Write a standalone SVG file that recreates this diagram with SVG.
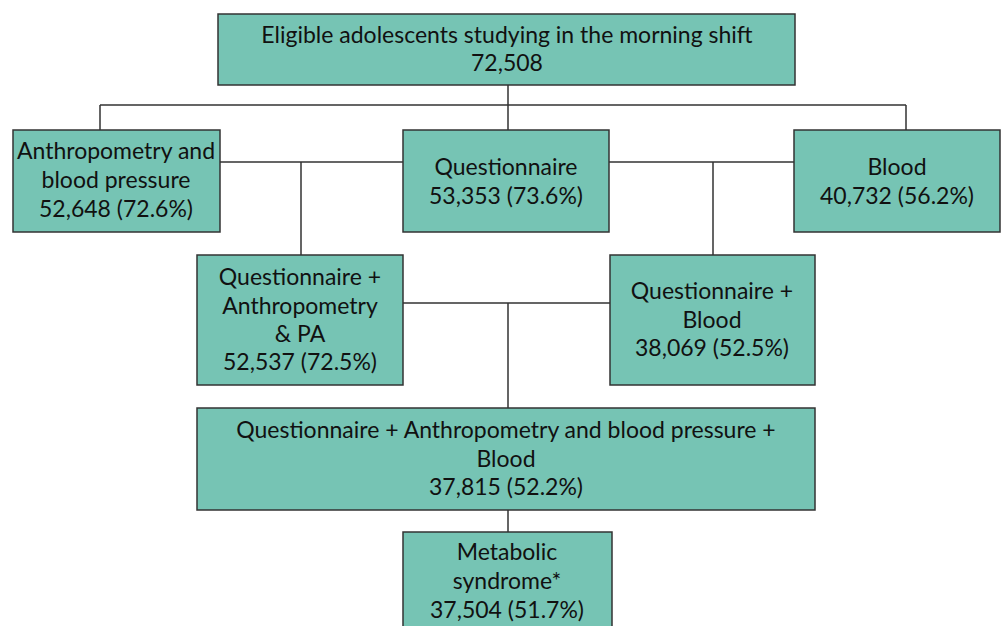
<svg xmlns="http://www.w3.org/2000/svg" width="1003" height="626" viewBox="0 0 1003 626">
<style>
.box{fill:#76c4b4;stroke:#333;stroke-width:1.5}
.t{font-family:Lato,"Open Sans",sans-serif;font-size:23px;fill:#111;text-anchor:middle}
.c{fill:none;stroke:#333;stroke-width:1.5}
</style>
<rect width="1003" height="626" fill="#fff"/>
<g id="connectors">
<path class="c" d="M508 85V130M100 105H906M100 105V130M906 105V130"/>
<path class="c" d="M220 162H403M301 162V255M609 162H794M713 162V255"/>
<path class="c" d="M403 303H610M508 303V408M508 510V532"/>
</g>
<g id="n_top"><rect class="box" x="218" y="14" width="577" height="71"/>
<text class="t" x="507" y="43">Eligible adolescents studying in the morning shift</text>
<text class="t" x="507" y="71">72,508</text></g>
<g id="n_anthro"><rect class="box" x="13" y="130" width="207" height="102"/>
<text class="t" x="116" y="159">Anthropometry and</text>
<text class="t" x="116" y="188">blood pressure</text>
<text class="t" x="116" y="217">52,648 (72.6%)</text></g>
<g id="n_quest"><rect class="box" x="403" y="130" width="206" height="102"/>
<text class="t" x="506" y="175">Questionnaire</text>
<text class="t" x="506" y="204">53,353 (73.6%)</text></g>
<g id="n_blood"><rect class="box" x="794" y="130" width="206" height="102"/>
<text class="t" x="897" y="175">Blood</text>
<text class="t" x="897" y="204">40,732 (56.2%)</text></g>
<g id="n_qa"><rect class="box" x="197" y="255" width="206" height="130"/>
<text class="t" x="300" y="285">Questionnaire +</text>
<text class="t" x="300" y="314">Anthropometry</text>
<text class="t" x="300" y="342">&amp; PA</text>
<text class="t" x="300" y="370">52,537 (72.5%)</text></g>
<g id="n_qb"><rect class="box" x="610" y="255" width="205" height="130"/>
<text class="t" x="712" y="299">Questionnaire +</text>
<text class="t" x="712" y="328">Blood</text>
<text class="t" x="712" y="356">38,069 (52.5%)</text></g>
<g id="n_all"><rect class="box" x="197" y="408" width="618" height="102"/>
<text class="t" x="506" y="438">Questionnaire + Anthropometry and blood pressure +</text>
<text class="t" x="506" y="467">Blood</text>
<text class="t" x="506" y="495">37,815 (52.2%)</text></g>
<g id="n_ms"><rect class="box" x="403" y="532" width="209" height="100"/>
<text class="t" x="507" y="560">Metabolic</text>
<text class="t" x="507" y="589">syndrome*</text>
<text class="t" x="507" y="618">37,504 (51.7%)</text></g>
</svg>
